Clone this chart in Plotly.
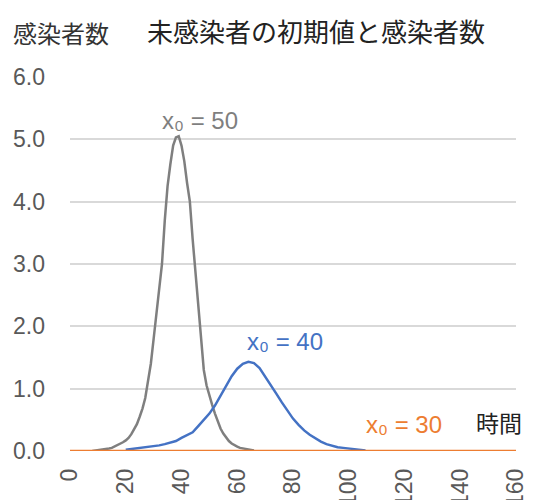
import plotly.graph_objects as go

# ---- data ----
gray_time = list(range(8, 67))
gray_values = [0.0, 0.005, 0.01, 0.015, 0.02, 0.03, 0.04, 0.05, 0.07, 0.09,
               0.11, 0.14, 0.17, 0.21, 0.27, 0.34, 0.43, 0.55, 0.68, 0.85,
               1.1, 1.4, 1.8, 2.2, 2.6, 3.0, 3.7, 4.25, 4.6, 4.9,
               5.03, 5.05, 4.9, 4.65, 4.3, 4.0, 3.4, 2.85, 2.35, 1.75,
               1.3, 1.05, 0.88, 0.74, 0.6, 0.47, 0.36, 0.28, 0.21, 0.16,
               0.12, 0.09, 0.07, 0.05, 0.04, 0.03, 0.025, 0.02, 0.01]

blue_time = list(range(20, 108, 2))
blue_values = [0.02, 0.03, 0.04, 0.05, 0.06, 0.07, 0.09, 0.11, 0.13, 0.16,
               0.21, 0.26, 0.3, 0.4, 0.5, 0.6, 0.73, 0.88, 1.05, 1.2,
               1.32, 1.4, 1.43, 1.41, 1.33, 1.2, 1.06, 0.92, 0.78, 0.64,
               0.52, 0.42, 0.33, 0.26, 0.2, 0.15, 0.11, 0.08, 0.06, 0.05,
               0.04, 0.03, 0.02, 0.01]

orange_time = [0, 20, 40, 60, 80, 100, 120, 140, 160]
orange_values = [0, 0, 0, 0, 0, 0, 0, 0, 0]

x_ticks = [0, 20, 40, 60, 80, 100, 120, 140, 160]
y_ticks = [0, 1, 2, 3, 4, 5, 6]
y_tick_labels = ["0.0", "1.0", "2.0", "3.0", "4.0", "5.0", "6.0"]

series_labels = ["x₀ = 50", "x₀ = 40", "x₀ = 30"]
title_text = "未感染者の初期値と感染者数"
y_title = "感染者数"
x_title = "時間"

GRAY = "#7f7f7f"
BLUE = "#4472C4"
ORANGE = "#ED7D31"
FONT = "Liberation Sans, Arial, DejaVu Sans, Noto Sans CJK JP"
CJK = "Noto Sans CJK JP"

# page body has an 8px margin; compensate so the figure lands where the reference is
OFF = 8
W, H = 534 - OFF, 500 - OFF
PL, PR, PT, PB = 70 - OFF, 516 - OFF, 77 - OFF, 451 - OFF

fig = go.Figure()
fig.add_trace(go.Scatter(x=gray_time, y=gray_values, mode="lines",
                         line=dict(color=GRAY, width=2.5), showlegend=False))
fig.add_trace(go.Scatter(x=blue_time, y=blue_values, mode="lines",
                         line=dict(color=BLUE, width=2.5), showlegend=False))
fig.add_trace(go.Scatter(x=orange_time, y=orange_values, mode="lines",
                         line=dict(color=ORANGE, width=2.5), showlegend=False,
                         cliponaxis=False))

ann_font = 24
fig.add_annotation(x=46.6, y=5.31, text=series_labels[0], showarrow=False,
                   xanchor="center", yanchor="middle",
                   font=dict(family=FONT, size=ann_font, color=GRAY))
fig.add_annotation(x=77, y=1.75, text=series_labels[1], showarrow=False,
                   xanchor="center", yanchor="middle",
                   font=dict(family=FONT, size=ann_font, color=BLUE))
fig.add_annotation(x=119.7, y=0.42, text=series_labels[2], showarrow=False,
                   xanchor="center", yanchor="middle",
                   font=dict(family=FONT, size=ann_font, color=ORANGE))
fig.add_annotation(x=154, y=0.46, text=x_title, showarrow=False,
                   xanchor="center", yanchor="middle",
                   font=dict(family=CJK, size=23, color="#222222"))
fig.add_annotation(xref="paper", yref="paper",
                   x=(61 - 70) / (PR - PL), y=(451 - 33) / (PB - PT),
                   text=y_title, showarrow=False,
                   xanchor="center", yanchor="middle",
                   font=dict(family=CJK, size=24, color="#333333"))

fig.update_layout(
    width=W, height=H,
    margin=dict(l=PL, r=W - PR, t=PT, b=H - PB, autoexpand=False),
    paper_bgcolor="white", plot_bgcolor="white",
    title=dict(text=title_text, x=(316 - OFF) / W, y=1 - (33 - OFF) / H,
               xanchor="center", yanchor="middle",
               font=dict(family=CJK, size=26, color="#222222")),
    xaxis=dict(range=[0, 160], tickvals=x_ticks, tickangle=-90,
               showgrid=False, zeroline=False, showline=False,
               ticks="", ticklabelstandoff=12,
               tickfont=dict(family=FONT, size=23, color="#595959")),
    yaxis=dict(range=[0, 6], tickvals=y_ticks, ticktext=y_tick_labels,
               showgrid=True, gridcolor="#D9D9D9", gridwidth=2,
               zeroline=False, showline=False, ticks="", ticklabelstandoff=24,
               tickfont=dict(family=FONT, size=23, color="#595959")),
)

fig.write_html("out.html")
